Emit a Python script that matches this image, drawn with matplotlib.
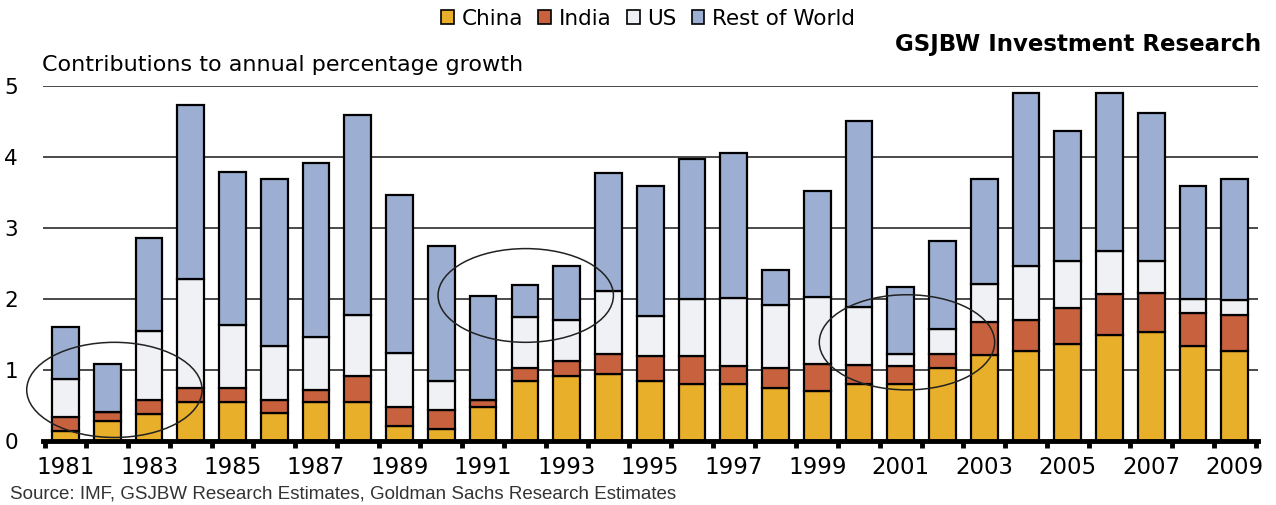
import matplotlib

matplotlib.use("Agg")

import matplotlib.pyplot as plt
import numpy as np
from matplotlib.patches import Ellipse, Patch

years = list(range(1981, 2010))

# contributions to annual world growth, percentage points
china = [0.14, 0.28, 0.38, 0.55, 0.55, 0.39, 0.55, 0.55, 0.21, 0.17,
         0.48, 0.84, 0.91, 0.94, 0.84, 0.81, 0.80, 0.74, 0.70, 0.81,
         0.81, 1.03, 1.21, 1.27, 1.36, 1.50, 1.54, 1.34, 1.27]
india = [0.20, 0.13, 0.20, 0.20, 0.20, 0.19, 0.17, 0.37, 0.27, 0.27,
         0.10, 0.19, 0.22, 0.29, 0.36, 0.39, 0.25, 0.29, 0.38, 0.26,
         0.24, 0.20, 0.46, 0.44, 0.52, 0.57, 0.55, 0.47, 0.50]
us = [0.54, 0.00, 0.97, 1.53, 0.89, 0.76, 0.74, 0.86, 0.76, 0.40,
      0.00, 0.71, 0.58, 0.88, 0.56, 0.80, 0.96, 0.89, 0.95, 0.82,
      0.18, 0.35, 0.54, 0.75, 0.66, 0.61, 0.45, 0.19, 0.22]
rest_of_world = [0.72, 0.67, 1.31, 2.45, 2.15, 2.35, 2.46, 2.81, 2.23, 1.90,
                 1.46, 0.46, 0.75, 1.67, 1.83, 1.97, 2.05, 0.49, 1.49, 2.62,
                 0.94, 1.24, 1.48, 2.44, 1.83, 2.22, 2.08, 1.59, 1.70]

series = ["China", "India", "US", "Rest of World"]
colors = ["#E8AF2A", "#C8623E", "#EFF1F5", "#9CAFD2"]

# circled periods: (centre year, centre value, width in years, height)
highlights = [(1982.17, 0.72, 4.2, 1.34),
              (1992.02, 2.05, 4.2, 1.32),
              (2001.15, 1.39, 4.2, 1.34)]

plt.rcParams["font.family"] = ["DejaVu Sans"]

fig = plt.figure(figsize=(12.76, 5.05), dpi=100)
ax = fig.add_axes([0.0337, 0.1267, 0.952, 0.703])

bottom = np.zeros(len(years))
for values, color, name in zip([china, india, us, rest_of_world], colors, series):
    ax.bar(years, values, bottom=bottom, width=0.64, color=color,
           edgecolor="black", linewidth=1.6, label=name, zorder=3)
    bottom += np.array(values)

for cx, cy, w, hgt in highlights:
    ax.add_patch(Ellipse((cx, cy), w, hgt, fill=False, edgecolor="#222222",
                         linewidth=1.1, zorder=5, clip_on=False))

ax.set_xlim(1980.46, 2009.55)
ax.set_ylim(0, 5)
ax.set_yticks(range(0, 6))
ax.yaxis.grid(True, color="#4a4a4a", linewidth=1.4, zorder=0)
ax.set_axisbelow(True)

ax.set_xticks(years[::2])
ax.set_xticks(np.arange(1980.5, 2010.0, 1.0), minor=True)
ax.tick_params(axis="x", which="major", length=0, pad=11, labelsize=16.5)
ax.tick_params(axis="x", which="minor", length=5, width=3.5, direction="out", color="black")
ax.tick_params(axis="y", length=0, pad=18, labelsize=15.5)

for side in ["top", "right", "left"]:
    ax.spines[side].set_visible(False)
ax.spines["bottom"].set_linewidth(3.5)
ax.spines["bottom"].set_zorder(4)

handles = [Patch(facecolor=c, edgecolor="black", linewidth=1.2, label=n)
           for c, n in zip(colors, series)]
fig.legend(handles=handles, loc="center", bbox_to_anchor=(0.508, 0.963), ncol=4,
           frameon=False, fontsize=15.5, handlelength=0.6, handleheight=0.6,
           handletextpad=0.35, columnspacing=0.7)

fig.text(0.988, 0.911, "GSJBW Investment Research", ha="right", va="center",
         fontsize=16.5, fontweight="bold")
fig.text(0.033, 0.872, "Contributions to annual percentage growth", ha="left",
         va="center", fontsize=16)
fig.text(0.008, 0.022, "Source: IMF, GSJBW Research Estimates, Goldman Sachs Research Estimates",
         ha="left", va="center", fontsize=13.5, color="#333333",
         family=["Liberation Sans", "DejaVu Sans"])

fig.savefig("out.png", dpi=100)
